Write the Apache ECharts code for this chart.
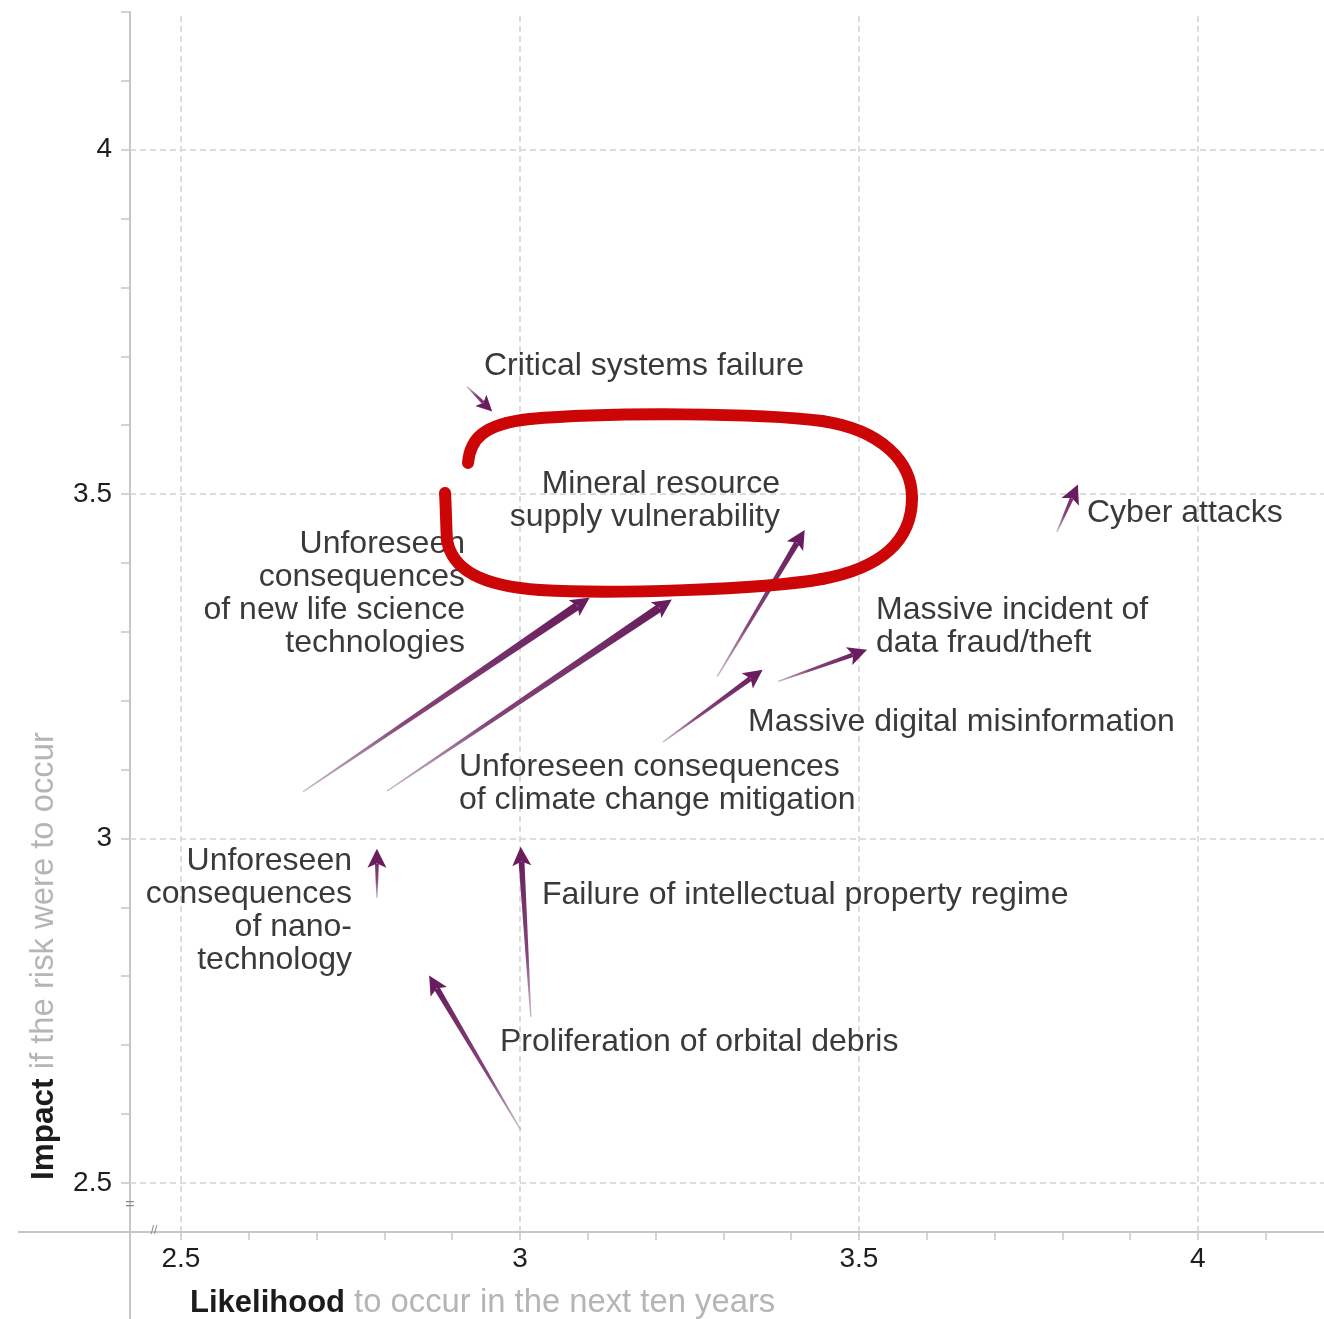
<!DOCTYPE html>
<html><head><meta charset="utf-8">
<script src="https://cdn.jsdelivr.net/npm/echarts@6.0.0/dist/echarts.min.js"></script>
<style>html,body{margin:0;padding:0;background:#fff}#c{width:1324px;height:1319px}</style>
</head><body><div id="c"></div>
<script>
// ---- data ----
const risks = [
  'Unforeseen consequences of new life science technologies',
  'Unforeseen consequences of climate change mitigation',
  'Mineral resource supply vulnerability',
  'Massive digital misinformation',
  'Massive incident of data fraud/theft',
  'Cyber attacks',
  'Critical systems failure',
  'Unforeseen consequences of nanotechnology',
  'Failure of intellectual property regime',
  'Proliferation of orbital debris'
];
const labelText = [
  'Unforeseen\nconsequences\nof new life science\ntechnologies',
  'Unforeseen consequences\nof climate change mitigation',
  'Mineral resource\nsupply vulnerability',
  'Massive digital misinformation',
  'Massive incident of\ndata fraud/theft',
  'Cyber attacks',
  'Critical systems failure',
  'Unforeseen\nconsequences\nof nano-\ntechnology',
  'Failure of intellectual property regime',
  'Proliferation of orbital debris'
];
const likelihoodFrom = [2.680, 2.804, 3.291, 3.211, 3.381, 3.792, 2.922, 2.789, 3.016, 3.001];
const impactFrom     = [3.068, 3.069, 3.235, 3.140, 3.228, 3.445, 3.656, 2.914, 2.741, 2.577];
const likelihoodTo   = [3.103, 3.224, 3.420, 3.358, 3.512, 3.823, 2.959, 2.789, 3.001, 2.866];
const impactTo       = [3.350, 3.347, 3.448, 3.245, 3.274, 3.514, 3.620, 2.985, 2.988, 2.801];
const xTickLabels = [2.5, 3, 3.5, 4];
const yTickLabels = [2.5, 3, 3.5, 4];
const xMinorTicks = [2.5, 2.6, 2.7, 2.8, 2.9, 3.0, 3.1, 3.2, 3.3, 3.4, 3.5, 3.6, 3.7, 3.8, 3.9, 4.0, 4.1];
const yMinorTicks = [2.5, 2.6, 2.7, 2.8, 2.9, 3.0, 3.1, 3.2, 3.3, 3.4, 3.5, 3.6, 3.7, 3.8, 3.9, 4.0, 4.1, 4.2];
const xTitleBold = 'Likelihood';
const xTitleRest = 'to occur in the next ten years';
const yTitleBold = 'Impact';
const yTitleRest = 'if the risk were to occur';

// ---- layout / style ----
const FONT = '"Liberation Sans", Arial, Helvetica, sans-serif';
const labelLayout = [
  {x: 465, y: 594, align: 'right'},
  {x: 459, y: 784, align: 'left'},
  {x: 780, y: 501, align: 'right'},
  {x: 748, y: 722, align: 'left'},
  {x: 876, y: 627, align: 'left'},
  {x: 1087, y: 513, align: 'left'},
  {x: 484, y: 366, align: 'left'},
  {x: 352, y: 911, align: 'right'},
  {x: 542, y: 895, align: 'left'},
  {x: 500, y: 1042, align: 'left'}
];
// hand-drawn red loop annotation (pixel coordinates, cubic segments)
const loopSegments = [
  [468, 463, 470, 440, 482, 424, 530, 419],
  [530, 419, 610, 412, 760, 413, 822, 421],
  [822, 421, 882, 430, 912, 462, 912, 498],
  [912, 498, 912, 540, 882, 568, 822, 579],
  [822, 579, 760, 590, 610, 594, 540, 590],
  [540, 590, 482, 586, 452, 570, 447, 540],
  [447, 540, 446, 525, 446, 508, 445, 493]
];

const arrowData = likelihoodFrom.map((v, i) => ({
  name: risks[i],
  value: [v, impactFrom[i], likelihoodTo[i], impactTo[i]]
}));

function renderArrow(params, api) {
  const p0 = api.coord([api.value(0), api.value(1)]);
  const p1 = api.coord([api.value(2), api.value(3)]);
  const dx = p1[0] - p0[0], dy = p1[1] - p0[1];
  const len = Math.sqrt(dx * dx + dy * dy);
  const ux = dx / len, uy = dy / len, nx = -uy, ny = ux;
  const hl = Math.min(19, len * 0.45);
  const hw = hl * 0.5;
  const sw = Math.max(3, Math.min(8.5, 3 + len / 60)) / 2;
  const tw = 0.6;
  const bx = p1[0] - ux * hl * 0.8, by = p1[1] - uy * hl * 0.8;
  const hbx = p1[0] - ux * hl, hby = p1[1] - uy * hl;
  const grad = new echarts.graphic.LinearGradient(p0[0], p0[1], p1[0], p1[1], [
    {offset: 0, color: 'rgba(150,120,145,0.55)'},
    {offset: 0.35, color: 'rgba(120,50,108,0.9)'},
    {offset: 1, color: '#651b59'}
  ], true);
  return {
    type: 'group',
    children: [
      {type: 'polygon', shape: {points: [
        [p0[0] + nx * tw, p0[1] + ny * tw],
        [bx + nx * sw, by + ny * sw],
        [bx - nx * sw, by - ny * sw],
        [p0[0] - nx * tw, p0[1] - ny * tw]
      ]}, style: {fill: grad}},
      {type: 'polygon', shape: {points: [
        [p1[0], p1[1]],
        [hbx + nx * hw, hby + ny * hw],
        [p1[0] - ux * hl * 0.78, p1[1] - uy * hl * 0.78],
        [hbx - nx * hw, hby - ny * hw]
      ]}, style: {fill: '#6a1d5e'}}
    ]
  };
}

const gridColor = '#d2d2d2';
const axisColor = '#c6c6c6';

const graphics = [];
labelText.forEach((t, i) => {
  const L = labelLayout[i];
  graphics.push({
    type: 'text', x: L.x, y: L.y, z: 50, silent: true,
    style: {text: t, fill: '#3a3a3a', fontSize: 32, fontFamily: FONT,
      align: L.align, verticalAlign: 'middle', lineHeight: 33}
  });
});
graphics.push({
  type: 'text', x: 190, y: 1303, z: 50, silent: true,
  style: {
    text: '{b|' + xTitleBold + '}{n| ' + xTitleRest + '}',
    align: 'left', verticalAlign: 'middle',
    rich: {
      b: {fontSize: 31, fontWeight: 'bold', fontFamily: FONT, fill: '#1c1c1c'},
      n: {fontSize: 32.8, fontFamily: FONT, fill: '#b5b5b5'}
    }
  }
});
graphics.push({
  type: 'text', x: 44, y: 956, rotation: Math.PI / 2, z: 50, silent: true,
  style: {
    text: '{b|' + yTitleBold + '}{n| ' + yTitleRest + '}',
    align: 'center', verticalAlign: 'middle',
    rich: {
      b: {fontSize: 31.5, fontWeight: 'bold', fontFamily: FONT, fill: '#1c1c1c'},
      n: {fontSize: 32.8, fontFamily: FONT, fill: '#b5b5b5'}
    }
  }
});
// axis line extensions beyond the plot area and break marks
graphics.push({type: 'line', z: 5, silent: true, shape: {x1: 130, y1: 1232, x2: 130, y2: 1319}, style: {stroke: axisColor, lineWidth: 2}});
graphics.push({type: 'line', z: 5, silent: true, shape: {x1: 18, y1: 1232, x2: 130, y2: 1232}, style: {stroke: axisColor, lineWidth: 2}});
graphics.push({type: 'text', x: 130, y: 1205, z: 6, silent: true, style: {text: '=', fontSize: 16, fontFamily: FONT, fill: '#888', align: 'center', verticalAlign: 'middle'}});
graphics.push({type: 'text', x: 154, y: 1231, z: 6, silent: true, style: {text: '//', fontSize: 12, fontFamily: FONT, fill: '#888', align: 'center', verticalAlign: 'middle'}});
loopSegments.forEach(s => {
  graphics.push({
    type: 'bezierCurve', z: 100, silent: true,
    shape: {x1: s[0], y1: s[1], cpx1: s[2], cpy1: s[3], cpx2: s[4], cpy2: s[5], x2: s[6], y2: s[7]},
    style: {stroke: '#cc0606', lineWidth: 12, fill: null, lineCap: 'round'}
  });
});

const chart = echarts.init(document.getElementById('c'), null, {renderer: 'canvas'});
chart.setOption({
  animation: false,
  backgroundColor: '#ffffff',
  grid: {left: 130, right: 0, top: 12, bottom: 87, containLabel: false, outerBoundsMode: 'none'},
  xAxis: {
    type: 'value', min: 2.4248, max: 4.186,
    axisLine: {show: true, onZero: false, lineStyle: {color: axisColor, width: 2}},
    axisTick: {show: true, customValues: xMinorTicks, length: 8, lineStyle: {color: axisColor, width: 1.5}},
    axisLabel: {show: true, customValues: xTickLabels, margin: 13, fontSize: 28, fontFamily: FONT, color: '#1e1e1e',
      formatter: v => String(v)},
    splitLine: {show: false}
  },
  yAxis: {
    type: 'value', min: 2.4286, max: 4.2,
    axisLine: {show: true, onZero: false, lineStyle: {color: axisColor, width: 2}},
    axisTick: {show: true, customValues: yMinorTicks, length: 9, lineStyle: {color: axisColor, width: 1.5}},
    axisLabel: {show: true, customValues: yTickLabels, margin: 18, fontSize: 28, fontFamily: FONT, color: '#1e1e1e',
      formatter: v => String(v)},
    splitLine: {show: false}
  },
  series: [
    {
      type: 'line', data: [], silent: true, z: 1,
      markLine: {
        silent: true, symbol: ['none', 'none'], animation: false,
        label: {show: false},
        lineStyle: {color: gridColor, width: 1.5, type: [6, 4]},
        data: xTickLabels.map(v => ({xAxis: v})).concat(yTickLabels.map(v => ({yAxis: v})))
      }
    },
    {
      type: 'custom', name: 'Risk shift', z: 10, clip: false,
      encode: {x: [0, 2], y: [1, 3]},
      renderItem: renderArrow,
      data: arrowData
    }
  ],
  graphic: graphics
});
</script>
</body></html>
